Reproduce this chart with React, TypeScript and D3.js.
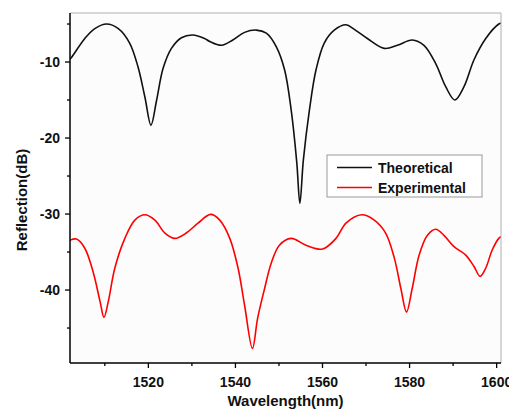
import React from "react";
import * as d3 from "d3";

const theoWl = [1502.0, 1502.2, 1505.4, 1507.7, 1510.4, 1513.1, 1515.7, 1517.6, 1519.2, 1520.6, 1521.9, 1523.4, 1525.3, 1527.6, 1530.2, 1532.9, 1534.1, 1536.8, 1539.4, 1542.1, 1544.8, 1547.1, 1549.4, 1551.3, 1552.8, 1554.1, 1554.8, 1555.6, 1557.0, 1558.5, 1560.4, 1562.7, 1565.4, 1567.3, 1570.3, 1574.2, 1577.2, 1580.6, 1583.3, 1586.0, 1588.3, 1590.4, 1592.5, 1594.8, 1597.5, 1600.5, 1601.0];
const theoDb = [-9.6, -9.5, -6.9, -5.6, -5.0, -5.6, -7.5, -10.6, -14.6, -18.3, -15.0, -10.8, -8.2, -6.8, -6.45, -6.9, -7.3, -7.8, -7.1, -6.1, -5.8, -6.2, -8.0, -11.05, -16.3, -23.3, -28.6, -22.9, -16.3, -11.05, -7.5, -5.8, -5.1, -5.7, -6.9, -8.2, -7.8, -7.1, -7.8, -10.2, -13.25, -15.0, -13.25, -9.7, -6.9, -5.0, -4.9];

const expWl = [1502.0, 1502.2, 1503.5, 1505.4, 1507.3, 1508.9, 1509.8, 1510.8, 1512.3, 1514.6, 1516.9, 1519.2, 1521.5, 1523.8, 1526.1, 1528.7, 1531.4, 1534.3, 1536.4, 1538.7, 1540.6, 1542.1, 1543.9, 1545.1, 1546.7, 1548.2, 1550.1, 1552.8, 1556.2, 1560.0, 1563.1, 1565.4, 1569.0, 1571.9, 1574.5, 1576.5, 1578.0, 1579.3, 1580.6, 1582.2, 1584.1, 1586.0, 1587.9, 1590.2, 1592.9, 1594.8, 1596.2, 1597.5, 1599.0, 1600.5, 1601.0];
const expDb = [-33.5, -33.4, -33.3, -34.5, -37.6, -41.5, -43.6, -41.5, -37.1, -33.2, -30.8, -30.1, -30.8, -32.5, -33.2, -32.5, -31.2, -30.05, -30.8, -33.2, -37.1, -42.0, -47.7, -43.7, -39.8, -36.5, -34.1, -33.2, -34.1, -34.6, -33.2, -31.2, -30.1, -30.8, -32.5, -35.8, -39.8, -42.9, -39.8, -35.4, -32.8, -32.0, -32.8, -34.3, -35.4, -36.9, -38.2, -37.1, -34.7, -33.2, -33.0];

const xMajor = [1520, 1540, 1560, 1580, 1600];
const xMinor = [1510, 1530, 1550, 1570, 1590];
const yMajor = [-10, -20, -30, -40];
const yMinor = [-5, -15, -25, -35, -45];

const seriesNames = ["Theoretical", "Experimental"];
const seriesColors = ["#111111", "#ff0000"];

const W = 509, H = 410;
const L = 70, R = 501, T = 13, B = 363;

export default function App() {
  const x = d3.scaleLinear().domain([1502, 1601]).range([L, R]);
  const y = d3.scaleLinear().domain([-49.6, -3.55]).range([B, T]);
  const line = d3
    .line<[number, number]>()
    .x((d) => x(d[0]))
    .y((d) => y(d[1]))
    .curve(d3.curveCatmullRom.alpha(0.5));
  const theo = theoWl.map((w, i) => [w, theoDb[i]] as [number, number]);
  const exp = expWl.map((w, i) => [w, expDb[i]] as [number, number]);
  const font = "'Liberation Sans', Arial, sans-serif";

  return (
    <svg
      width={W}
      height={H}
      style={{ position: "absolute", left: 0, top: 0, background: "#ffffff" }}
      fontFamily={font}
    >
      <rect x={L} y={T} width={R - L} height={B - T} fill="#fcfcfc" />
      <defs>
        <clipPath id="plotclip">
          <rect x={L} y={T} width={R - L} height={B - T} />
        </clipPath>
      </defs>
      <g clipPath="url(#plotclip)">
        <path d={line(theo) || ""} fill="none" stroke={seriesColors[0]} strokeWidth={1.6} />
        <path d={line(exp) || ""} fill="none" stroke={seriesColors[1]} strokeWidth={1.6} />
      </g>
      <line x1={L} x2={R} y1={T} y2={T} stroke="#b0b0b0" strokeWidth={1} />
      <line x1={R} x2={R} y1={T} y2={B} stroke="#b0b0b0" strokeWidth={1} />
      <line x1={L} x2={L} y1={T} y2={B} stroke="#000" strokeWidth={1.5} />
      <line x1={L} x2={R} y1={B} y2={B} stroke="#000" strokeWidth={1.5} />
      {xMajor.map((v) => (
        <g key={"xm" + v}>
          <line x1={x(v)} x2={x(v)} y1={B} y2={B + 5} stroke="#000" strokeWidth={1.3} />
          <text x={x(v)} y={B + 24} textAnchor="middle" fontSize={14} fontWeight="bold" fill="#111">
            {v}
          </text>
        </g>
      ))}
      {xMinor.map((v) => (
        <line key={"xn" + v} x1={x(v)} x2={x(v)} y1={B} y2={B + 3} stroke="#000" strokeWidth={1.3} />
      ))}
      {yMajor.map((v) => (
        <g key={"ym" + v}>
          <line x1={L - 5} x2={L} y1={y(v)} y2={y(v)} stroke="#000" strokeWidth={1.3} />
          <text x={L - 10} y={y(v) + 5} textAnchor="end" fontSize={14} fontWeight="bold" fill="#111">
            {v}
          </text>
        </g>
      ))}
      {yMinor.map((v) => (
        <line key={"yn" + v} x1={L - 3} x2={L} y1={y(v)} y2={y(v)} stroke="#000" strokeWidth={1.3} />
      ))}
      <text x={(L + R) / 2} y={406} textAnchor="middle" fontSize={15} fontWeight="bold" fill="#111">
        Wavelength(nm)
      </text>
      <text
        transform={`translate(27, 200) rotate(-90)`}
        textAnchor="middle"
        fontSize={15}
        fontWeight="bold"
        fill="#111"
      >
        Reflection(dB)
      </text>
      <rect x={327} y={155} width={155} height={42} fill="#ffffff" stroke="#999" strokeWidth={1} />
      {seriesNames.map((n, i) => (
        <g key={n}>
          <line x1={337} x2={372} y1={167.5 + i * 20} y2={167.5 + i * 20} stroke={seriesColors[i]} strokeWidth={1.4} />
          <text x={378} y={172.5 + i * 20} fontSize={14} fontWeight="bold" fill="#111">
            {n}
          </text>
        </g>
      ))}
    </svg>
  );
}
